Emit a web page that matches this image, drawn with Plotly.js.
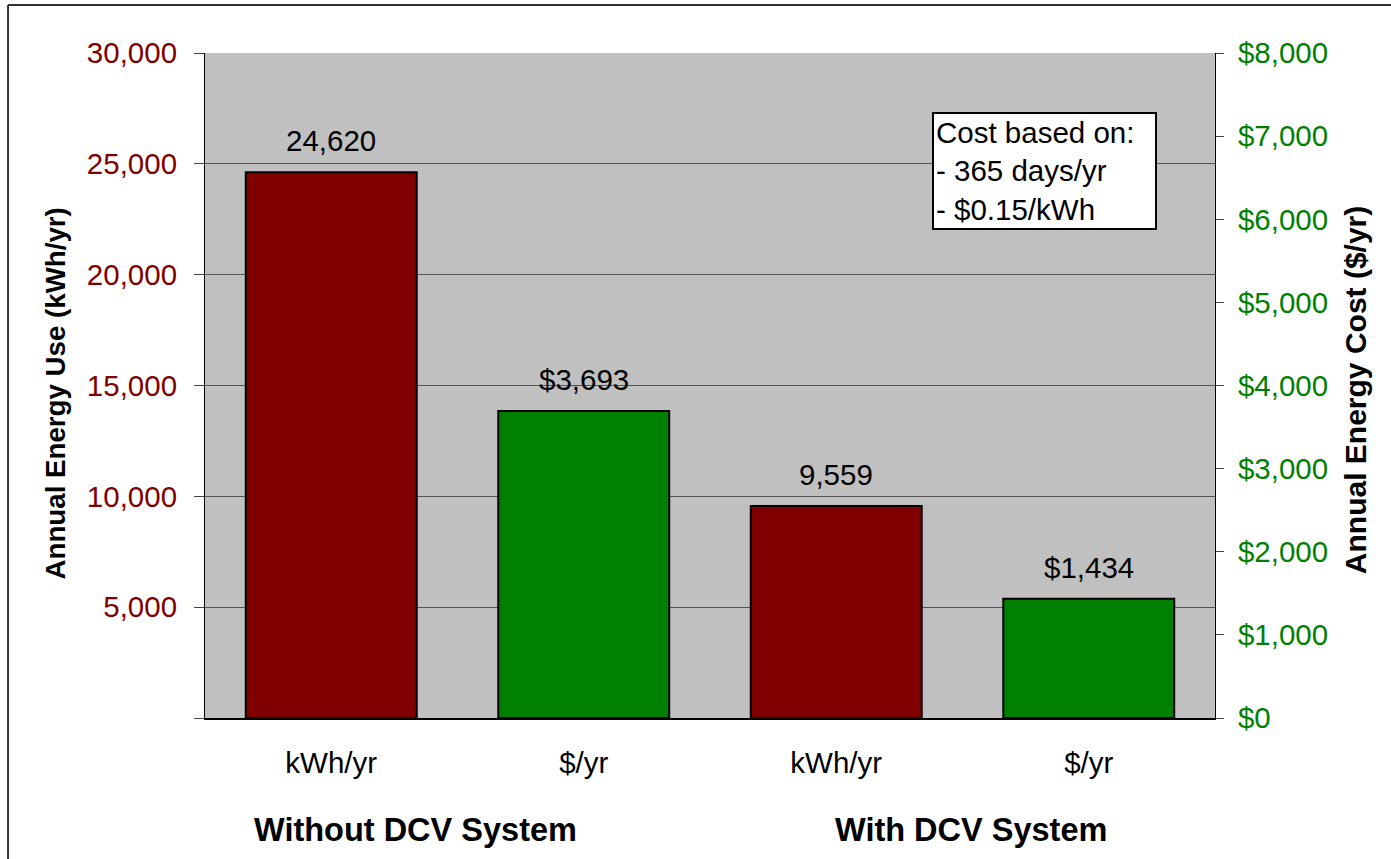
<!DOCTYPE html>
<html>
<head>
<meta charset="utf-8">
<script src="https://cdn.plot.ly/plotly-3.0.1.min.js"></script>
<style>html,body{margin:0;padding:0;background:#fff;}#chart{width:1391px;height:859px;}</style>
</head>
<body>
<div id="chart"></div>
<script>
const categories = ['kWh/yr', '$/yr', 'kWh/yr', '$/yr'];
const groups = ['Without DCV System', 'With DCV System'];
const energyUse = [24620, 9559];     // kWh/yr, left axis
const energyCost = [3693, 1434];     // $/yr, right axis
const leftTicks = [0, 5000, 10000, 15000, 20000, 25000, 30000];
const leftTickText = ['', '5,000', '10,000', '15,000', '20,000', '25,000', '30,000'];
const rightTicks = [0, 1000, 2000, 3000, 4000, 5000, 6000, 7000, 8000];
const rightTickText = ['$0', '$1,000', '$2,000', '$3,000', '$4,000', '$5,000', '$6,000', '$7,000', '$8,000'];
const noteLines = ['Cost based on:', '- 365 days/yr', '- $0.15/kWh'];
const leftTitle = 'Annual Energy Use (kWh/yr)';
const rightTitle = 'Annual Energy Cost ($/yr)';

const FONT = 'Arial, "Liberation Sans", sans-serif';
const RED = '#800000', GREEN = '#008000';
const FS = 29.5;

const catIdx = categories.map((c, i) => i);
const useX = energyUse.map((v, i) => 2 * i);
const costX = energyCost.map((v, i) => 2 * i + 1);
const boundaries = categories.map((c, i) => i - 0.5).concat([categories.length - 0.5]);

const traces = [
  {type: 'bar', x: useX, y: energyUse, yaxis: 'y', width: 0.677,
   marker: {color: RED, line: {color: '#000', width: 2}}, hoverinfo: 'y', showlegend: false},
  {type: 'bar', x: costX, y: energyCost, yaxis: 'y2', width: 0.677,
   marker: {color: GREEN, line: {color: '#000', width: 2}}, hoverinfo: 'y', showlegend: false}
];

const fmt = v => v.toLocaleString('en-US');
const annotations = [];
energyUse.forEach((v, i) => annotations.push({
  x: useX[i], y: v, xref: 'x', yref: 'y', text: fmt(v), showarrow: false,
  yanchor: 'bottom', yshift: 13, font: {family: FONT, size: FS, color: '#000'}
}));
energyCost.forEach((v, i) => annotations.push({
  x: costX[i], y: v, xref: 'x', yref: 'y2', text: '$' + fmt(v), showarrow: false,
  yanchor: 'bottom', yshift: 13, font: {family: FONT, size: FS, color: '#000'}
}));
// group labels
annotations.push({x: 0.208, y: -0.168, xref: 'paper', yref: 'paper', text: '<b>' + groups[0] + '</b>',
  showarrow: false, xanchor: 'center', yanchor: 'middle', font: {family: FONT, size: 32.5, color: '#000'}});
annotations.push({x: 0.758, y: -0.168, xref: 'paper', yref: 'paper', text: '<b>' + groups[1] + '</b>',
  showarrow: false, xanchor: 'center', yanchor: 'middle', font: {family: FONT, size: 32.5, color: '#000'}});
// axis titles
annotations.push({x: -0.1485, y: 0.488, xref: 'paper', yref: 'paper', text: '<b>' + leftTitle + '</b>',
  textangle: -90, showarrow: false, xanchor: 'center', yanchor: 'middle', font: {family: FONT, size: 27.7, color: '#000'}});
annotations.push({x: 1.1386, y: 0.493, xref: 'paper', yref: 'paper', text: '<b>' + rightTitle + '</b>',
  textangle: -90, showarrow: false, xanchor: 'center', yanchor: 'middle', font: {family: FONT, size: 30, color: '#000'}});
// note box
annotations.push({x: 0.72, y: 0.912, xref: 'paper', yref: 'paper', text: noteLines.join('<br>'),
  showarrow: false, xanchor: 'left', yanchor: 'top', align: 'left', bgcolor: '#fff', width: 217,
  bordercolor: '#000', borderwidth: 2, borderpad: 2, font: {family: FONT, size: 29.5, color: '#000'}});

const layout = {
  width: 1391, height: 859,
  margin: {l: 205, r: 176, t: 53, b: 141, pad: 0},
  paper_bgcolor: '#fff', plot_bgcolor: '#C0C0C0',
  font: {family: FONT, color: '#000'},
  barmode: 'overlay',
  showlegend: false,
  xaxis: {range: [-0.5, categories.length - 0.5], tickmode: 'array', tickvals: catIdx, ticktext: categories,
    ticks: '', showgrid: false, zeroline: false, showline: true, linecolor: '#000', linewidth: 2,
    tickfont: {family: FONT, size: FS, color: '#000'}, ticklabelstandoff: 18, fixedrange: true},
  xaxis2: {overlaying: 'x', anchor: 'y', side: 'bottom', range: [-0.5, categories.length - 0.5],
    tickmode: 'array', tickvals: boundaries, ticks: 'outside', ticklen: 10, tickwidth: 1, tickcolor: '#000',
    showticklabels: false, showgrid: false, zeroline: false, showline: false, fixedrange: true},
  yaxis: {range: [0, 30000], tickmode: 'array', tickvals: leftTicks, ticktext: leftTickText,
    ticks: 'outside', ticklen: 10, tickwidth: 1, tickcolor: '#444',
    showgrid: true, gridcolor: '#555', gridwidth: 1, zeroline: false,
    showline: true, linecolor: '#000', linewidth: 1,
    tickfont: {family: FONT, size: FS, color: RED}, ticklabelstandoff: 11, fixedrange: true},
  yaxis2: {overlaying: 'y', side: 'right', anchor: 'x', range: [0, 8000], tickmode: 'array',
    tickvals: rightTicks, ticktext: rightTickText, ticks: 'outside', ticklen: 8, tickwidth: 1, tickcolor: '#444',
    showgrid: false, zeroline: false, showline: true, linecolor: '#000', linewidth: 1,
    tickfont: {family: FONT, size: FS, color: GREEN}, ticklabelstandoff: 8, fixedrange: true},
  yaxis3: {overlaying: 'y', side: 'right', anchor: 'x', range: [0, 8000], tickmode: 'array',
    tickvals: rightTicks, ticks: 'inside', ticklen: 11, tickwidth: 1, tickcolor: '#444',
    showticklabels: false, showgrid: false, zeroline: false, showline: false, fixedrange: true},
  annotations: annotations,
  shapes: [
    {type: 'line', xref: 'paper', yref: 'paper', x0: -0.195, x1: 1.25, y0: 1.0722, y1: 1.0722,
     line: {color: '#333', width: 2}, layer: 'below'},
    {type: 'line', xref: 'paper', yref: 'paper', x0: -0.195, x1: -0.195, y0: -0.4, y1: 1.0722,
     line: {color: '#333', width: 2}, layer: 'below'}
  ]
};

Plotly.newPlot('chart', traces, layout, {staticPlot: true, displayModeBar: false});
</script>
</body>
</html>
